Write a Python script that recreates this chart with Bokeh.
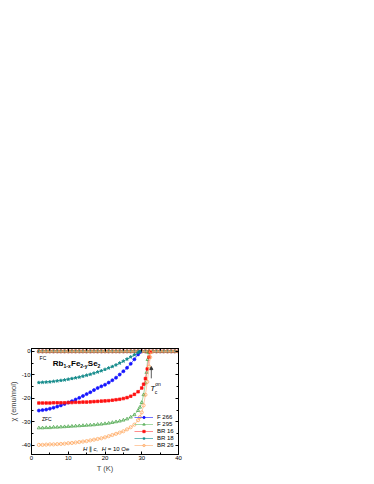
from bokeh.plotting import figure
from bokeh.models import Range1d, LinearAxis, FixedTicker, Label, Arrow, NormalHead
from bokeh.embed import file_html
from bokeh.resources import INLINE

# ---------------- data ----------------
x_ticks = [0, 10, 20, 30, 40]
x_minor = [5, 15, 25, 35]
y_ticks = [0, -10, -20, -30, -40]
y_minor = [-5, -15, -25, -35]

labels = ["F 266", "F 295", "BR 16", "BR 18", "BR 26"]

# ZFC curves
T_f266 = [2, 3, 4, 5, 6, 7, 8, 9, 10, 11, 12, 13, 14, 15, 16, 17, 18, 19, 20,
          21, 22, 23, 24, 25, 26, 27, 28, 29, 29.5]
chi_f266 = [-25.2, -25.0, -24.8, -24.4, -24.0, -23.5, -23.0, -22.4, -21.8, -21.2,
            -20.5, -19.8, -19.0, -18.2, -17.4, -16.5, -15.6, -14.9, -14.2,
            -13.3, -12.3, -11.2, -9.9, -8.5, -7.0, -5.3, -3.4, -1.3, -0.3]

T_f295 = [2, 3, 4, 5, 6, 7, 8, 9, 10, 11, 12, 13, 14, 15, 16, 17, 18, 19, 20,
          21, 22, 23, 24, 25, 26, 27, 28, 29, 29.5, 30, 30.5, 31, 31.3, 31.6, 31.8]
chi_f295 = [-32.6, -32.6, -32.5, -32.5, -32.3, -32.3, -32.2, -32.1, -32.0, -31.9,
            -31.8, -31.7, -31.6, -31.5, -31.4, -31.3, -31.1, -31.0, -30.8,
            -30.6, -30.3, -30.0, -29.7, -29.3, -28.8, -28.0, -27.0, -25.2, -23.8,
            -21.8, -18.5, -13.5, -9.0, -3.5, -0.5]

T_br16 = [2, 3, 4, 5, 6, 7, 8, 9, 10, 11, 12, 13, 14, 15, 16, 17, 18, 19, 20,
          21, 22, 23, 24, 25, 26, 27, 28, 29, 30, 30.5, 31, 31.5, 32, 32.3]
chi_br16 = [-22.0, -22.0, -22.0, -22.0, -21.9, -21.9, -21.9, -21.9, -21.8, -21.8,
            -21.7, -21.7, -21.6, -21.6, -21.5, -21.4, -21.3, -21.2, -21.1,
            -21.0, -20.8, -20.6, -20.4, -20.1, -19.7, -19.1, -18.3, -17.2, -15.6,
            -14.0, -11.6, -7.5, -2.5, -0.3]

T_br18 = [2, 3, 4, 5, 6, 7, 8, 9, 10, 11, 12, 13, 14, 15, 16, 17, 18, 19, 20,
          21, 22, 23, 24, 25, 26, 27, 28, 29, 29.5]
chi_br18 = [-13.3, -13.2, -13.1, -13.0, -12.8, -12.6, -12.4, -12.2, -11.9, -11.6,
            -11.3, -11.0, -10.6, -10.2, -9.8, -9.3, -8.8, -8.3, -7.7,
            -7.1, -6.5, -5.8, -5.0, -4.2, -3.3, -2.4, -1.5, -0.6, -0.1]

T_br26 = [2, 3, 4, 5, 6, 7, 8, 9, 10, 11, 12, 13, 14, 15, 16, 17, 18, 19, 20,
          21, 22, 23, 24, 25, 26, 27, 28, 29, 29.5, 30, 30.5, 31, 31.5, 32, 32.3, 32.5]
chi_br26 = [-39.8, -39.8, -39.7, -39.6, -39.6, -39.5, -39.4, -39.3, -39.1, -39.0,
            -38.8, -38.6, -38.4, -38.2, -37.9, -37.6, -37.3, -37.0, -36.6,
            -36.1, -35.6, -35.1, -34.6, -34.0, -33.2, -32.3, -31.2, -29.3, -28.0,
            -26.0, -23.0, -18.5, -13.0, -6.5, -2.5, -0.3]

# FC curves (all samples stay at ~0)
T_fc = [2, 3, 4, 5, 6, 7, 8, 9, 10, 11, 12, 13, 14, 15, 16, 17, 18, 19, 20,
        21, 22, 23, 24, 25, 26, 27, 28, 29, 30, 31, 32, 33, 34, 35, 36, 37, 38, 39, 40]
chi_fc = [0, 0, 0, 0, 0, 0, 0, 0, 0, 0, 0, 0, 0, 0, 0, 0, 0, 0, 0,
          0, 0, 0, 0, 0, 0, 0, 0, 0, 0, 0, 0, 0, 0, 0, 0, 0, 0, 0, 0]

FONT = "Liberation Sans"

p = figure(width=360, height=476, output_backend="svg", toolbar_location=None,
           x_range=Range1d(0, 40), y_range=Range1d(-43.9, 1.2),
           min_border_left=31, min_border_right=182,
           min_border_top=348, min_border_bottom=22,
           x_axis_label="T (K)", y_axis_label="χ (emu/mol)")
p.xgrid.visible = False
p.ygrid.visible = False
p.outline_line_color = "black"
p.outline_line_width = 1
p.background_fill_color = "white"
p.border_fill_color = "white"


def style(ax, ticks, minor, show_labels=True):
    ax.ticker = FixedTicker(ticks=ticks, minor_ticks=minor)
    ax.axis_line_color = "black"
    ax.axis_line_width = 1
    ax.major_tick_line_color = "black"
    ax.minor_tick_line_color = "black"
    ax.major_tick_in = 3
    ax.major_tick_out = 0
    ax.minor_tick_in = 2
    ax.minor_tick_out = 0
    ax.major_label_text_font = FONT
    ax.major_label_text_font_size = "6px"
    ax.major_label_text_color = "black"
    ax.major_label_standoff = 1
    ax.axis_label_text_font = FONT
    ax.axis_label_text_font_size = "7.5px"
    ax.axis_label_text_font_style = "normal"
    ax.axis_label_standoff = 1
    if show_labels:
        ax.major_label_overrides = {t: str(t) for t in ticks}
    else:
        ax.major_label_overrides = {t: "" for t in ticks}


style(p.xaxis[0], x_ticks, x_minor)
style(p.yaxis[0], y_ticks, y_minor)
top_ax = LinearAxis()
right_ax = LinearAxis()
style(top_ax, x_ticks, x_minor, False)
style(right_ax, y_ticks, y_minor, False)
p.add_layout(top_ax, "above")
p.add_layout(right_ax, "right")

series = [
    (T_f266, chi_f266, "#5050ff", "#1515ff", "circle", True, 3.0),
    (T_f295, chi_f295, "#8fd08f", "#3c9c3c", "triangle", False, 3.2),
    (T_br16, chi_br16, "#ff7070", "#ff1010", "square", True, 2.6),
    (T_br18, chi_br18, "#40a8a8", "#108888", "star", True, 3.4),
    (T_br26, chi_br26, "#ffc090", "#ffa050", "circle", False, 3.2),
]

# FC curves at the top
for (T, chi, lc, mc, mk, filled, sz) in series:
    p.line(T_fc, chi_fc, line_color=lc, line_width=0.8)
    p.scatter(T_fc, chi_fc, marker=mk, size=sz, line_color=mc, line_width=0.7,
              fill_color=mc if filled else None)

# ZFC curves
for (T, chi, lc, mc, mk, filled, sz), lab in zip(series, labels):
    p.line(T, chi, line_color=lc, line_width=0.8, legend_label=lab)
    p.scatter(T, chi, marker=mk, size=sz, line_color=mc, line_width=0.7,
              fill_color=mc if filled else None, legend_label=lab)

leg = p.legend[0]
leg.location = (103, 6)
leg.label_text_font = FONT
leg.label_text_font_size = "6px"
leg.label_text_color = "black"
leg.label_height = 6
leg.glyph_height = 6
leg.glyph_width = 19
leg.label_standoff = 4
leg.spacing = 1
leg.padding = 0
leg.margin = 0
leg.border_line_color = None
leg.background_fill_alpha = 0


def lbl(x, y, text, size, style="normal", xo=0, yo=0, baseline="alphabetic"):
    p.add_layout(Label(x=x, y=y, text=text, x_offset=xo, y_offset=yo,
                       text_font=FONT, text_font_size=size, text_font_style=style,
                       text_color="black", text_baseline=baseline, text_align="left"))


# FC / ZFC labels
lbl(2.2, -2.9, "FC", "5px", baseline="middle")
lbl(2.85, -28.8, "ZFC", "5px", baseline="middle")

# formula Rb1-xFe2-ySe2
fx, fy = 5.8, -5.2
lbl(fx, fy, "Rb", "8px", "bold", 0, 0)
lbl(fx, fy, "1-x", "5px", "bold", 10.7, -2)
lbl(fx, fy, "Fe", "8px", "bold", 18.2, 0)
lbl(fx, fy, "2-y", "5px", "bold", 27.5, -2)
lbl(fx, fy, "Se", "8px", "bold", 35.0, 0)
lbl(fx, fy, "2", "5px", "bold", 44.8, -2)

# field annotation
hx, hy = 14.0, -41.6
lbl(hx, hy, "H", "6px", "italic", 0)
lbl(hx, hy, "∥", "6px", "normal", 6.0)
lbl(hx, hy, "c,", "6px", "italic", 10.5)
lbl(hx, hy, "H", "6px", "italic", 18.7)
lbl(hx, hy, "= 10 Oe", "6px", "normal", 24.8)

# Tc onset
tx, ty = 32.3, -16.0
lbl(tx, ty, "T", "8px", "italic", 0, 0)
lbl(tx, ty, "c", "5px", "normal", 4.6, -3)
lbl(tx, ty, "on", "5px", "normal", 5.0, 5)

p.add_layout(Arrow(x_start=32.6, y_start=-11.5, x_end=32.6, y_end=-6.5,
                   line_color="#333333", line_width=0.8,
                   end=NormalHead(size=3, line_color="#333333", fill_color="#333333")))

open("out.html", "w").write(file_html(p, INLINE))
